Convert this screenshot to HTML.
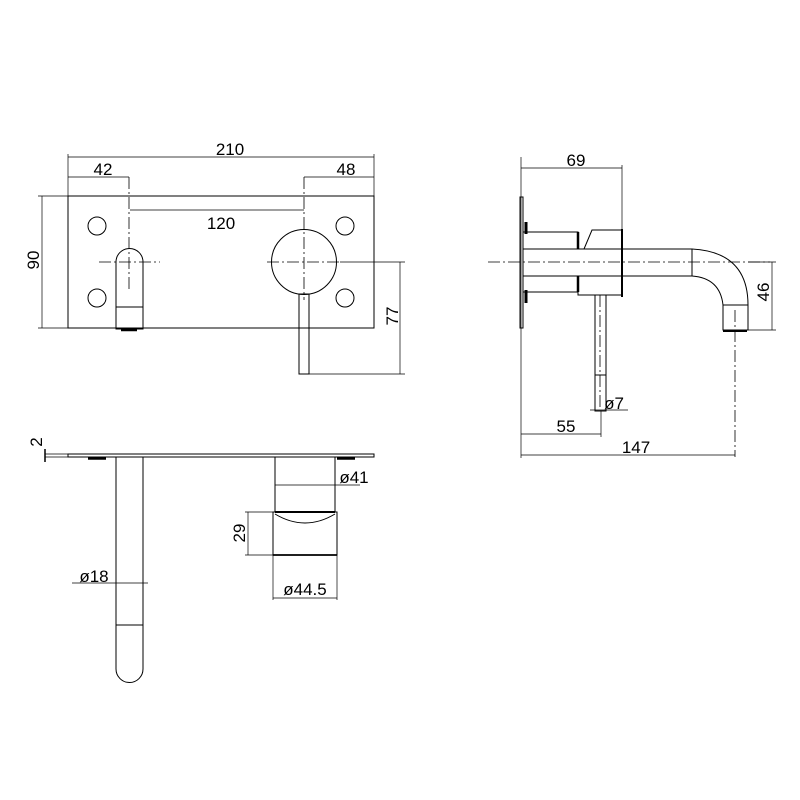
<!DOCTYPE html>
<html><head><meta charset="utf-8"><style>html,body{margin:0;padding:0;background:#fff}svg{display:block}text{font-family:"Liberation Sans",sans-serif;font-size:17px;fill:#000}</style></head><body>
<svg width="800" height="800" viewBox="0 0 800 800" xmlns="http://www.w3.org/2000/svg">
<g fill="none" stroke="#000" stroke-width="1">
<rect x="68" y="196" width="306" height="132"/>
<circle cx="97" cy="226" r="9"/><circle cx="97" cy="298" r="9"/>
<circle cx="345" cy="226" r="9"/><circle cx="345" cy="298" r="9"/>
<path d="M116 329 V262 A13.5 13.5 0 0 1 143 262 V329 Z"/>
<line x1="116" y1="307" x2="143" y2="307"/>
<line x1="121" y1="330" x2="137" y2="330" stroke-width="2.5"/>
<circle cx="304" cy="262" r="32.5"/>
<rect x="299" y="294" width="10" height="80"/>
<g stroke-width="0.8" stroke-dasharray="12 3 2 3">
<line x1="99" y1="262" x2="160" y2="262"/><line x1="267" y1="262" x2="340" y2="262"/>
<line x1="129" y1="177" x2="129" y2="290"/><line x1="304" y1="177" x2="304" y2="300"/>
</g>
<g stroke-width="0.7">
<line x1="68" y1="157" x2="374" y2="157"/><line x1="68" y1="154" x2="68" y2="196"/><line x1="374" y1="154" x2="374" y2="196"/>
<line x1="68" y1="177" x2="129" y2="177"/><line x1="304" y1="177" x2="374" y2="177"/>
<line x1="130" y1="210" x2="304" y2="210"/>
<line x1="42" y1="196" x2="42" y2="328"/><line x1="38" y1="196" x2="68" y2="196"/><line x1="38" y1="328" x2="68" y2="328"/>
<line x1="400" y1="262" x2="400" y2="374"/><line x1="340" y1="262" x2="405" y2="262"/><line x1="309" y1="374" x2="405" y2="374"/>
</g>
<rect x="520" y="197" width="3" height="131"/>
<line x1="526" y1="222" x2="526" y2="234" stroke-width="3"/><line x1="526" y1="290" x2="526" y2="303" stroke-width="3"/>
<path d="M523 232 H578 V249"/><line x1="578" y1="232" x2="578" y2="249" stroke-width="2.5"/>
<path d="M584 249 L592 230 H622 V297"/>
<line x1="622" y1="229" x2="622" y2="297" stroke-width="2"/>
<line x1="523" y1="249" x2="692" y2="249"/><line x1="523" y1="276" x2="692" y2="276"/>
<line x1="692" y1="249" x2="692" y2="276"/>
<path d="M523 292 H578"/><line x1="578" y1="276" x2="578" y2="292" stroke-width="2.5"/>
<path d="M578 276 V295 H622"/>
<rect x="595" y="295" width="11" height="116"/><line x1="595" y1="375" x2="606" y2="375"/>
<path d="M692 249 Q748 252 748 305"/><path d="M692 276 Q720 278 723 305"/>
<rect x="723" y="305" width="25" height="25"/>
<line x1="723" y1="331" x2="747" y2="331" stroke-width="2"/>
<g stroke-width="0.8" stroke-dasharray="12 3 2 3">
<line x1="488" y1="262" x2="770" y2="262"/><line x1="735" y1="310" x2="735" y2="457"/><line x1="600" y1="295" x2="600" y2="410"/>
</g>
<g stroke-width="0.7">
<line x1="521" y1="157" x2="521" y2="458"/><line x1="521" y1="168" x2="622" y2="168"/><line x1="622" y1="165" x2="622" y2="229"/>
<line x1="748" y1="262" x2="776" y2="262"/><line x1="748" y1="330" x2="776" y2="330"/><line x1="772" y1="262" x2="772" y2="330"/>
<line x1="590" y1="410" x2="628" y2="410"/>
<line x1="601" y1="411" x2="601" y2="437"/><line x1="521" y1="434" x2="601" y2="434"/>
<line x1="521" y1="455" x2="735" y2="455"/>
</g>
<rect x="68" y="454" width="306" height="3"/>
<line x1="45" y1="454" x2="68" y2="454" stroke-width="0.7"/><line x1="45" y1="457" x2="68" y2="457" stroke-width="0.7"/>
<line x1="45" y1="449" x2="45" y2="462" stroke-width="1.5"/>
<line x1="88" y1="458.5" x2="106" y2="458.5" stroke-width="2.5"/><line x1="337" y1="458.5" x2="355" y2="458.5" stroke-width="2.5"/>
<path d="M116 457 V669 A13.5 13.5 0 0 0 143 669 V457"/>
<line x1="116" y1="625" x2="143" y2="625"/>
<path d="M275 457 V512 M335 457 V512"/>
<line x1="275" y1="512" x2="335" y2="512" stroke-width="2"/>
<rect x="273" y="512" width="64" height="43"/><line x1="273" y1="555" x2="337" y2="555" stroke-width="1.8"/>
<path d="M275 514 Q305 532 335 514"/>
<g stroke-width="0.7">
<line x1="72" y1="583" x2="148" y2="583"/>
<line x1="275" y1="485" x2="360" y2="485"/>
<line x1="248" y1="512" x2="248" y2="555"/><line x1="245" y1="512" x2="273" y2="512"/><line x1="245" y1="555" x2="273" y2="555"/>
<line x1="273" y1="555" x2="273" y2="600"/><line x1="337" y1="555" x2="337" y2="600"/><line x1="273" y1="598" x2="337" y2="598"/>
</g>
</g>
<text x="230" y="155" text-anchor="middle">210</text>
<text x="103" y="175" text-anchor="middle">42</text>
<text x="346" y="175" text-anchor="middle">48</text>
<text x="221" y="229" text-anchor="middle">120</text>
<text transform="translate(39,260) rotate(-90)" text-anchor="middle">90</text>
<text transform="translate(398,316) rotate(-90)" text-anchor="middle">77</text>
<text x="576" y="166" text-anchor="middle">69</text>
<text transform="translate(769,292) rotate(-90)" text-anchor="middle">46</text>
<text x="614" y="409" text-anchor="middle">ø7</text>
<text x="566" y="432" text-anchor="middle">55</text>
<text x="636" y="453" text-anchor="middle">147</text>
<text transform="translate(42,442) rotate(-90)" text-anchor="middle">2</text>
<text x="94" y="582" text-anchor="middle">ø18</text>
<text x="354" y="483" text-anchor="middle">ø41</text>
<text transform="translate(245,533) rotate(-90)" text-anchor="middle">29</text>
<text x="305" y="595" text-anchor="middle">ø44.5</text>
</svg>
</body></html>
